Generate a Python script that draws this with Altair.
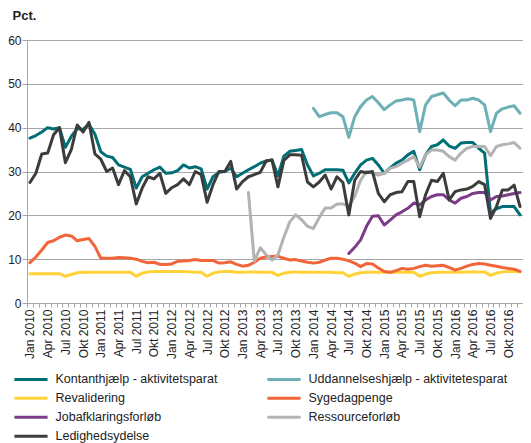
import altair as alt
import pandas as pd

MONTHS = ["Jan", "Feb", "Mar", "Apr", "Maj", "Jun", "Jul", "Aug", "Sep", "Okt", "Nov", "Dec"]
YEARS = [2010, 2011, 2012, 2013, 2014, 2015, 2016]
periods = [f"{m} {y}" for y in YEARS for m in MONTHS]

SERIES = [
    "Kontanthjælp - aktivitetsparat",
    "Uddannelseshjælp - aktivitetesparat",
    "Revalidering",
    "Sygedagpenge",
    "Jobafklaringsforløb",
    "Ressourceforløb",
    "Ledighedsydelse",
]
COLORS = ["#006e75", "#6db0b5", "#ffd337", "#f2643a", "#7d3c8a", "#b3b3b3", "#3c3c3c"]

N = None
kontant = [
    37.6, 38.2, 39.0, 40.0, 39.7, 40.0, 35.5, 38.0, 39.8, 39.6, 40.8, 38.5,
    34.5, 33.5, 33.2, 31.5, 31.0, 30.5, 26.2, 28.8, 29.6, 30.4, 31.0, 29.6,
    29.7, 30.2, 31.5, 30.8, 31.1, 30.6, 26.0, 28.8, 29.8, 30.0, 30.8, 28.8,
    29.6, 30.4, 31.1, 31.9, 32.4, 32.6, 29.0, 33.5, 34.6, 34.8, 35.0, 31.5,
    29.0, 29.6, 30.4, 30.4, 30.4, 30.3, 27.4, 29.6, 31.5, 32.6, 33.0, 31.5,
    29.6, 30.8, 31.9, 32.6, 33.8, 34.6, 30.4, 33.8, 35.7, 36.1, 37.2, 35.8,
    35.3, 36.5, 36.6, 36.6, 35.3, 34.2, 20.5, 21.5, 22.0, 22.0, 22.0, 20.1,
]
uddannelse = [N] * 48 + [
    44.4, 42.5, 43.0, 43.4, 43.4, 42.5, 37.8, 42.5, 44.8, 46.3, 47.1, 45.7,
    44.1, 45.2, 46.1, 46.3, 46.6, 46.3, 39.1, 45.2, 47.1, 47.5, 47.9, 46.3,
    45.0, 46.3, 46.3, 46.7, 46.3, 45.2, 39.1, 43.3, 44.3, 44.7, 45.0, 43.3,
]
revalidering = [
    6.7, 6.7, 6.7, 6.7, 6.7, 6.7, 6.1, 6.5, 6.9, 7.0, 7.0, 7.0,
    7.0, 7.0, 7.0, 7.0, 7.0, 7.0, 6.1, 6.8, 7.1, 7.2, 7.2, 7.2,
    7.2, 7.2, 7.2, 7.1, 7.0, 7.0, 6.1, 6.8, 7.1, 7.2, 7.2, 7.0,
    7.0, 7.1, 7.1, 7.0, 7.0, 7.0, 6.3, 6.8, 7.0, 7.1, 7.0, 7.0,
    7.0, 7.0, 7.0, 7.0, 6.9, 6.9, 6.1, 6.6, 6.9, 7.0, 7.0, 7.0,
    7.0, 7.0, 7.0, 7.0, 7.0, 7.0, 6.1, 6.6, 6.9, 7.0, 7.0, 7.0,
    7.0, 7.0, 7.1, 7.1, 7.1, 7.1, 6.3, 6.8, 7.1, 7.2, 7.2, 7.1,
]
sygedagpenge = [
    9.2, 10.5, 12.1, 13.8, 14.2, 15.0, 15.5, 15.3, 14.2, 14.5, 14.7, 12.9,
    10.2, 10.2, 10.2, 10.4, 10.3, 10.2, 10.0, 9.5, 9.2, 9.3, 8.8, 8.8,
    8.9, 9.5, 9.6, 9.7, 9.9, 9.7, 9.7, 9.7, 9.1, 9.2, 9.4, 8.8,
    8.4, 8.6, 9.3, 10.2, 10.5, 10.6, 10.7, 10.2, 9.8, 9.9, 9.6, 9.3,
    9.1, 9.3, 9.8, 10.2, 10.2, 10.0, 9.6, 9.1, 8.3, 9.0, 8.9, 8.0,
    7.2, 7.0, 7.4, 7.9, 7.7, 7.9, 8.3, 8.6, 8.4, 8.5, 8.6, 8.1,
    7.5, 7.9, 8.4, 8.8, 9.0, 8.9, 8.6, 8.4, 8.1, 7.9, 7.7, 7.2,
]
jobafklaring = [N] * 54 + [
    11.3, 12.7, 14.4, 17.5, 19.8, 19.9,
    17.8, 18.9, 20.1, 20.8, 21.6, 22.8, 22.4, 23.5, 24.3, 24.7, 24.7, 23.5,
    22.8, 23.9, 24.3, 25.0, 25.2, 25.2, 23.5, 24.3, 24.4, 24.7, 25.0, 25.2,
]
ressource = [N] * 37 + [
    25.2, 9.5, 12.6, 11.0, 9.8, 11.0, 15.0, 18.5, 20.1, 19.0, 17.5,
    17.0, 19.5, 21.7, 21.7, 22.6, 22.6, 22.1, 24.3, 28.0, 30.0, 29.6, 29.2,
    29.6, 30.7, 31.1, 31.9, 32.6, 33.4, 31.0, 33.8, 34.9, 34.9, 34.6, 33.4,
    32.6, 34.2, 35.3, 35.7, 35.7, 35.7, 33.6, 35.7, 36.1, 36.3, 36.6, 35.3,
]
ledighed = [
    27.5, 29.6, 34.0, 34.2, 38.4, 40.0, 32.0, 35.0, 40.6, 39.0, 41.2, 34.0,
    32.8, 30.0, 30.8, 27.0, 30.2, 28.8, 22.6, 26.2, 28.8, 28.3, 29.6, 25.0,
    26.3, 27.0, 28.3, 27.0, 30.0, 29.3, 23.0, 27.0, 30.0, 30.0, 32.3, 26.0,
    27.7, 28.8, 29.3, 29.8, 32.4, 32.6, 26.5, 32.5, 33.8, 33.8, 33.7, 27.6,
    26.5, 27.6, 29.2, 26.0, 28.8, 27.5, 20.1, 28.0, 30.0, 29.7, 30.0, 25.0,
    23.1, 24.7, 25.2, 25.4, 27.7, 27.7, 19.7, 24.7, 28.0, 27.7, 29.6, 23.5,
    25.4, 25.8, 26.0, 26.6, 27.7, 27.0, 19.3, 22.0, 25.8, 25.8, 26.9, 22.0,
]

values = [kontant, uddannelse, revalidering, sygedagpenge, jobafklaring, ressource, ledighed]
rows = []
for si, (name, vals) in enumerate(zip(SERIES, values)):
    for p, v in zip(periods, vals):
        if v is not None:
            rows.append({"periode": p, "serie": name, "pct": v, "ord": si})
df = pd.DataFrame(rows)

FONT = "Liberation Sans"
GRID = "#a6a6a6"

chart = (
    alt.Chart(df)
    .mark_line(strokeWidth=3, strokeJoin="round", strokeCap="round")
    .encode(
        x=alt.X(
            "periode:O",
            sort=periods,
            bandPosition=0.5,
            scale=alt.Scale(type="band", domain=periods, paddingInner=0, paddingOuter=0),
            axis=alt.Axis(
                title=None,
                labelAngle=270,
                labelExpr="indexof(['Jan','Apr','Jul','Okt'], slice(datum.label, 0, 3)) >= 0 ? datum.label : ''",
                labelOverlap=False,
                tickBand="extent",
                tickSize=4,
                tickColor=GRID,
                domainColor=GRID,
                labelPadding=2,
                labelFont=FONT,
                labelFontSize=12,
                labelColor="#222222",
                grid=False,
            ),
        ),
        y=alt.Y(
            "pct:Q",
            scale=alt.Scale(domain=[0, 60], nice=False),
            axis=alt.Axis(
                values=[0, 10, 20, 30, 40, 50, 60],
                title="Pct.",
                titleAngle=0,
                titleAlign="left",
                titleBaseline="alphabetic",
                titleX=-15,
                titleY=-21,
                titleFont=FONT,
                titleFontSize=13,
                titleFontWeight="bold",
                titleColor="#222222",
                grid=True,
                gridColor=GRID,
                domainColor=GRID,
                tickColor=GRID,
                tickSize=5,
                labelPadding=1,
                labelFont=FONT,
                labelFontSize=12,
                labelColor="#222222",
            ),
        ),
        color=alt.Color(
            "serie:N",
            scale=alt.Scale(domain=SERIES, range=COLORS),
            legend=alt.Legend(
                title=None,
                orient="none",
                direction="horizontal",
                legendX=11,
                legendY=333,
                columns=2,
                columnPadding=43,
                rowPadding=6,
                padding=0,
                symbolType="M-9,0H1",
                symbolSize=44,
                symbolStrokeWidth=3,
                labelOffset=5,
                labelFont=FONT,
                labelFontSize=12.5,
                labelColor="#222222",
                labelLimit=400,
            ),
        ),
        order=alt.Order("ord:Q"),
    )
    .properties(
        width=496,
        height=263,
        autosize=alt.AutoSizeParams(type="none"),
        padding={"left": 19, "top": 32, "right": 0, "bottom": 148},
    )
    .configure_view(stroke=None)
)

chart.save("out.html", embed_options={"renderer": "svg", "actions": False})
